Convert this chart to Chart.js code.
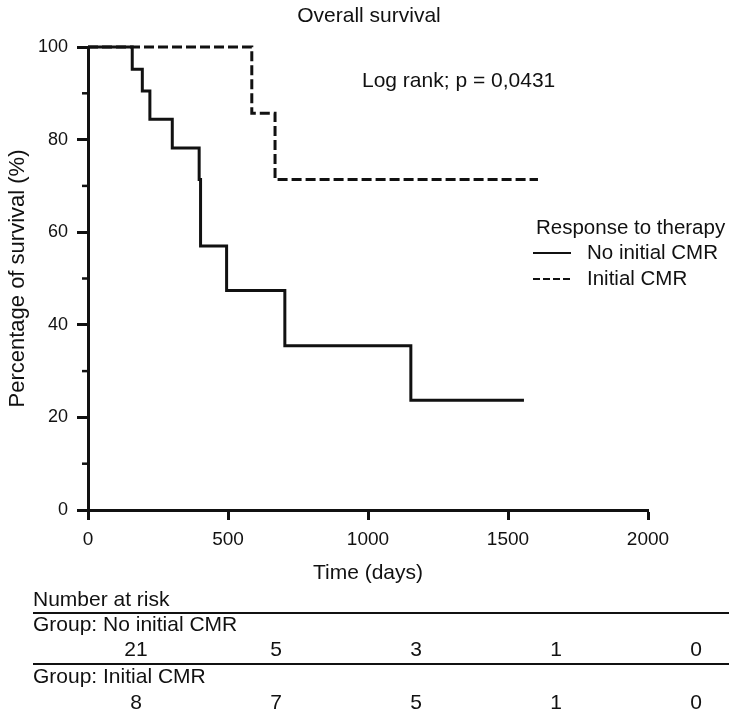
<!DOCTYPE html>
<html>
<head>
<meta charset="utf-8">
<title>Overall survival</title>
<script src="https://cdn.jsdelivr.net/npm/chart.js@4.4.1/dist/chart.umd.min.js"></script>
<style>
    html, body { margin: 0; padding: 0; background: #fff; }
    #wrap { width: 729px; height: 720px; }
</style>
</head>
<body>
<div id="wrap"><canvas id="survivalChart" width="729" height="720"></canvas></div>
<script>
// Kaplan-Meier steps (days, % survival)
const noCmrDays = [0, 158, 194, 221, 301, 397, 402, 495, 703, 1153, 1557];
const noCmrSurvival = [100, 95.2, 90.5, 84.4, 78.2, 71.4, 57.0, 47.4, 35.5, 23.7, 23.7];

const cmrDays = [0, 585, 668, 1607];
const cmrSurvival = [100, 85.7, 71.4, 71.4];

// number at risk table
const riskTimes = [0, 500, 1000, 1500, 2000];
const noCmrAtRisk = [21, 5, 3, 1, 0];
const cmrAtRisk = [8, 7, 5, 1, 0];

const yMinorTicks = [10, 30, 50, 70, 90];

const FONT = "'Liberation Sans', Arial, sans-serif";
const INK = "#111";

function toPoints(days, values) {
    return days.map((d, i) => ({ x: d, y: values[i] }));
}

const extrasPlugin = {
    id: "extras",
    afterDraw(chart) {
        const ctx = chart.ctx;
        const xScale = chart.scales.x;
        const yScale = chart.scales.y;
        const left = chart.chartArea.left;

        ctx.save();

        // minor ticks on the y axis
        ctx.strokeStyle = INK;
        ctx.lineWidth = 2.5;
        yMinorTicks.forEach(v => {
            const y = yScale.getPixelForValue(v);
            ctx.beginPath();
            ctx.moveTo(left - 6, y);
            ctx.lineTo(left, y);
            ctx.stroke();
        });

        ctx.fillStyle = INK;
        ctx.textBaseline = "middle";

        // title
        ctx.font = "21px " + FONT;
        ctx.textAlign = "center";
        ctx.fillText("Overall survival", 369, 16);

        // log rank note
        ctx.textAlign = "left";
        ctx.fillText("Log rank; p = 0,0431", 362, 81);

        // legend
        ctx.font = "20.5px " + FONT;
        ctx.fillText("Response to therapy", 536, 228);
        ctx.fillText("No initial CMR", 587, 253);
        ctx.fillText("Initial CMR", 587, 279);

        ctx.lineWidth = 2;
        ctx.beginPath();
        ctx.moveTo(533, 253);
        ctx.lineTo(571, 253);
        ctx.stroke();

        ctx.setLineDash([7, 3]);
        ctx.beginPath();
        ctx.moveTo(533, 279);
        ctx.lineTo(571, 279);
        ctx.stroke();
        ctx.setLineDash([]);

        // number at risk table
        ctx.font = "21px " + FONT;
        ctx.fillText("Number at risk", 33, 600);
        ctx.fillText("Group: No initial CMR", 33, 625);
        ctx.fillText("Group: Initial CMR", 33, 677);

        ctx.lineWidth = 2;
        [613, 664].forEach(y => {
            ctx.beginPath();
            ctx.moveTo(33, y);
            ctx.lineTo(729, y);
            ctx.stroke();
        });

        ctx.textAlign = "center";
        riskTimes.forEach((t, i) => {
            const x = xScale.getPixelForValue(t) + 48;
            ctx.fillText(String(noCmrAtRisk[i]), x, 650);
            ctx.fillText(String(cmrAtRisk[i]), x, 703);
        });

        ctx.restore();
    }
};

const ctx = document.getElementById("survivalChart").getContext("2d");

new Chart(ctx, {
    type: "line",
    data: {
        datasets: [
            {
                label: "No initial CMR",
                data: toPoints(noCmrDays, noCmrSurvival),
                borderColor: INK,
                borderWidth: 3,
                pointRadius: 0,
                stepped: "before",
                fill: false,
                clip: false
            },
            {
                label: "Initial CMR",
                data: toPoints(cmrDays, cmrSurvival),
                borderColor: INK,
                borderWidth: 3,
                borderDash: [10, 4],
                pointRadius: 0,
                stepped: "before",
                fill: false,
                clip: false
            }
        ]
    },
    options: {
        responsive: false,
        animation: false,
        layout: { padding: { left: 0, right: 81, top: 47, bottom: 0 } },
        plugins: {
            legend: { display: false },
            tooltip: { enabled: false },
            title: { display: false }
        },
        scales: {
            x: {
                type: "linear",
                min: 0,
                max: 2000,
                afterFit: function (scale) { scale.height = 210; },
                ticks: {
                    stepSize: 500,
                    color: INK,
                    padding: 8,
                    maxRotation: 0,
                    font: { family: FONT, size: 19 },
                    callback: value => String(value)
                },
                grid: {
                    drawOnChartArea: false,
                    tickLength: 10,
                    tickColor: INK,
                    tickWidth: 3
                },
                border: { display: true, color: INK, width: 3 },
                title: {
                    display: true,
                    text: "Time (days)",
                    color: INK,
                    font: { family: FONT, size: 21 },
                    padding: { top: 0, bottom: 134 }
                }
            },
            y: {
                min: 0,
                max: 100,
                afterFit: function (scale) { scale.width = 88; },
                ticks: {
                    stepSize: 20,
                    color: INK,
                    padding: 9,
                    font: { family: FONT, size: 18 }
                },
                grid: {
                    drawOnChartArea: false,
                    tickLength: 11,
                    tickColor: INK,
                    tickWidth: 3
                },
                border: { display: true, color: INK, width: 3 },
                title: {
                    display: true,
                    text: "Percentage of survival (%)",
                    color: INK,
                    font: { family: FONT, size: 22 },
                    padding: { top: 5, bottom: 0 }
                }
            }
        }
    },
    plugins: [extrasPlugin]
});
</script>
</body>
</html>
